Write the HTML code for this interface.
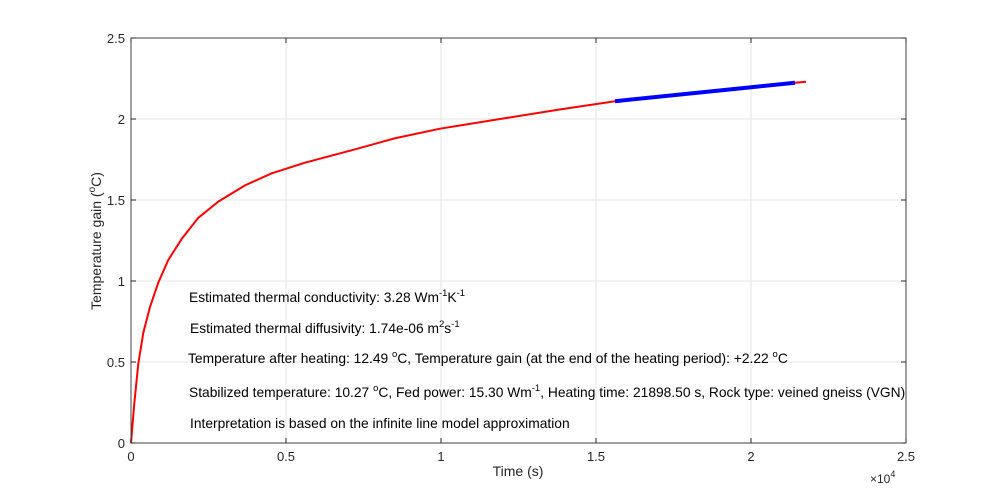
<!DOCTYPE html>
<html><head><meta charset="utf-8"><style>
body{margin:0;background:#fff;}
svg{display:block;font-family:"Liberation Sans",Arial,sans-serif;}
</style></head><body>
<svg id="chart" width="1000" height="498" viewBox="0 0 1000 498">
<g id="grid"></g>
<g id="series"></g>
<rect x="131" y="38" width="775" height="405" fill="none" stroke="#404040" stroke-width="1"/>
<g id="ticks" font-size="13" fill="#262626"></g>
<text x="518" y="476" font-size="14" text-anchor="middle" fill="#262626">Time (s)</text>
<text x="870" y="483" font-size="12" fill="#262626">×10<tspan dy="-6" font-size="9">4</tspan></text>
<text transform="translate(101,241) rotate(-90)" font-size="14" text-anchor="middle" fill="#262626">Temperature gain (<tspan dy="-6" font-size="10">o</tspan><tspan dy="6">C)</tspan></text>
<g font-size="13.8" fill="#000">
<text x="189" y="302">Estimated thermal conductivity: 3.28 Wm<tspan dy="-6" font-size="9.5">-1</tspan><tspan dy="6">K</tspan><tspan dy="-6" font-size="9.5">-1</tspan></text>
<text x="190" y="333">Estimated thermal diffusivity: 1.74e-06 m<tspan dy="-6" font-size="9.5">2</tspan><tspan dy="6">s</tspan><tspan dy="-6" font-size="9.5">-1</tspan></text>
<text x="188" y="363">Temperature after heating: 12.49 <tspan dy="-6" font-size="9.5">o</tspan><tspan dy="6">C, Temperature gain (at the end of the heating period): +2.22 </tspan><tspan dy="-6" font-size="9.5">o</tspan><tspan dy="6">C</tspan></text>
<text x="189" y="397">Stabilized temperature: 10.27 <tspan dy="-6" font-size="9.5">o</tspan><tspan dy="6">C, Fed power: 15.30 Wm</tspan><tspan dy="-6" font-size="9.5">-1</tspan><tspan dy="6">, Heating time: 21898.50 s, Rock type: veined gneiss (VGN)</tspan></text>
<text x="190" y="428">Interpretation is based on the infinite line model approximation</text>
</g>
</svg>
<script>
const times = [0,107,237,398,613,882,1204,1635,2172,2817,3678,4538,5613,7172,8500,9968,11903,13800,15613,17800,19968,21419,21774];
const gains = [0,0.245,0.49,0.68,0.84,0.99,1.13,1.26,1.39,1.49,1.59,1.665,1.73,1.81,1.88,1.94,2.0,2.058,2.11,2.153,2.195,2.224,2.23];
const fitStart = 15613;
const fitEnd = 21419;
const xTicks = [0,5000,10000,15000,20000,25000];
const xTickLabels = ['0','0.5','1','1.5','2','2.5'];
const yTicks = [0,0.5,1,1.5,2,2.5];
const yTickLabels = ['0','0.5','1','1.5','2','2.5'];

const X0=131,X1=906,Y0=443,Y1=38;
const xs=v=>X0+(v/25000)*(X1-X0);
const ys=v=>Y0-(v/2.5)*(Y0-Y1);
const NS='http://www.w3.org/2000/svg';
const grid=document.getElementById('grid'),ticks=document.getElementById('ticks'),series=document.getElementById('series');
function mk(tag,attrs){const e=document.createElementNS(NS,tag);for(const k in attrs)e.setAttribute(k,attrs[k]);return e;}
xTicks.forEach((t,i)=>{
  const x=xs(t);
  const g=mk('line',{x1:x,x2:x,y1:Y1,y2:Y0,stroke:'#e6e6e6'});
  
  
  grid.appendChild(g);
  const tk=mk('line',{x1:x,x2:x,y1:Y0,y2:Y0-5,stroke:'#262626'});
  
  
  ticks.appendChild(tk);
  const tk2=mk('line',{x1:x,x2:x,y1:Y1,y2:Y1+5,stroke:'#262626'});
  
  
  ticks.appendChild(tk2);
  const tx=mk('text',{x:x,y:Y0+18,'text-anchor':'middle'});
  tx.textContent=xTickLabels[i];
  
  
  ticks.appendChild(tx);
});
yTicks.forEach((t,i)=>{
  const y=ys(t);
  const g=mk('line',{x1:X0,x2:X1,y1:y,y2:y,stroke:'#e6e6e6'});
  
  
  grid.appendChild(g);
  const tk=mk('line',{x1:X0,x2:X0+5,y1:y,y2:y,stroke:'#262626'});
  
  
  ticks.appendChild(tk);
  const tk2=mk('line',{x1:X1,x2:X1-5,y1:y,y2:y,stroke:'#262626'});
  
  
  ticks.appendChild(tk2);
  const tx=mk('text',{x:X0-6,y:y+5,'text-anchor':'end'});
  tx.textContent=yTickLabels[i];
  
  
  ticks.appendChild(tx);
});
const pts=times.map((t,i)=>xs(t).toFixed(1)+','+ys(gains[i]).toFixed(1));
const red=mk('polyline',{points:pts.join(' '),fill:'none',stroke:'#ff0000','stroke-width':2,'stroke-linejoin':'round'});


series.appendChild(red);
const bp=[];
times.forEach((t,i)=>{if(t>=fitStart&&t<=fitEnd)bp.push(xs(t).toFixed(1)+','+ys(gains[i]).toFixed(1));});
const blue=mk('polyline',{points:bp.join(' '),fill:'none',stroke:'#0000ff','stroke-width':4,'stroke-linejoin':'round'});


series.appendChild(blue);
</script>
</body></html>
